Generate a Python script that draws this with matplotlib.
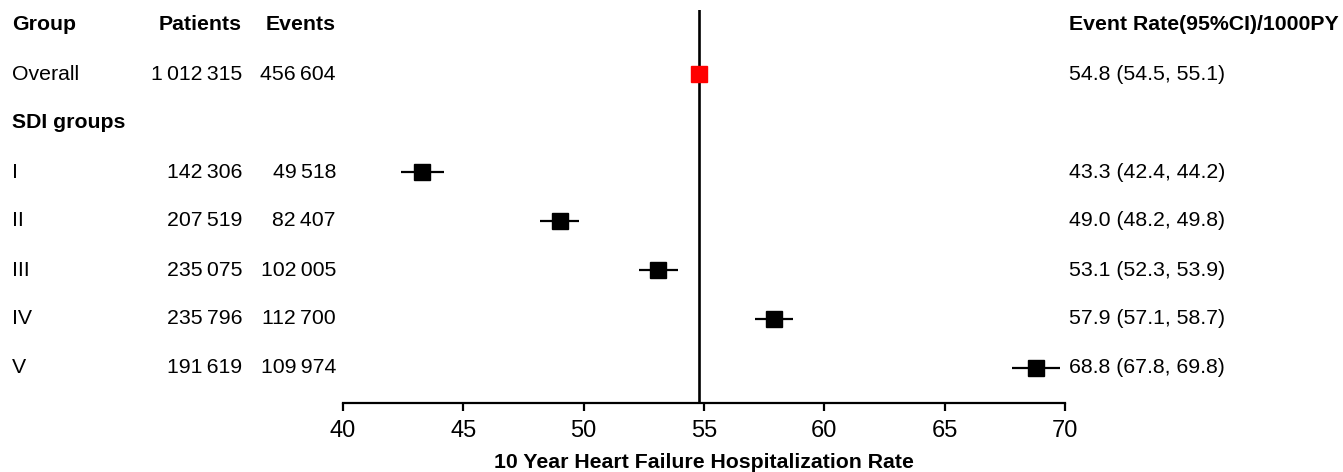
import matplotlib.pyplot as plt
from matplotlib.transforms import blended_transform_factory

plt.rcParams['font.family'] = ['Liberation Sans', 'DejaVu Sans']

# data
groups = ["Overall", "I", "II", "III", "IV", "V"]
rows = [1, 3, 4, 5, 6, 7]
patients = [1012315, 142306, 207519, 235075, 235796, 191619]
events = [456604, 49518, 82407, 102005, 112700, 109974]
rate = [54.8, 43.3, 49.0, 53.1, 57.9, 68.8]
ci_lo = [54.5, 42.4, 48.2, 52.3, 57.1, 67.8]
ci_hi = [55.1, 44.2, 49.8, 53.9, 58.7, 69.8]
colors = ["#ff0000", "black", "black", "black", "black", "black"]
ticks = [40, 45, 50, 55, 60, 65, 70]


def fmt(n):
    # thin space as thousands separator
    return f"{n:,}".replace(",", "\u2009")


W, H = 1343, 472
fig = plt.figure(figsize=(W / 100, H / 100), dpi=100)
ax = fig.add_axes([343 / W, 1 - 403 / H, (1065 - 343) / W, (403 - 10) / H])

# rows spaced ~49 px, header row at y=25 px
top = -(25 - 10) / 49.0
bottom = (403 - 25) / 49.0
ax.set_ylim(bottom, top)
ax.set_xlim(40, 70)

ax.axvline(rate[0], color="black", lw=1.9, zorder=1)

for i in range(len(groups)):
    ax.errorbar(rate[i], rows[i],
                xerr=[[rate[i] - ci_lo[i]], [ci_hi[i] - rate[i]]],
                fmt="s", color="black", ecolor="black", elinewidth=1.6,
                capsize=0, markersize=11.5, markerfacecolor=colors[i],
                markeredgecolor=colors[i], zorder=3)

for s in ["top", "left", "right"]:
    ax.spines[s].set_visible(False)
ax.spines["bottom"].set_linewidth(1.6)
ax.set_yticks([])
ax.set_xticks(ticks)
ax.tick_params(axis="x", length=6, width=1.6, labelsize=17, pad=6)

tr = blended_transform_factory(fig.transFigure, ax.transData)
fs = 15.3

def col(x, y, s, ha="left", bold=False):
    ax.text(x / W, y, s, transform=tr, ha=ha, va="center", fontsize=fs,
            fontweight="bold" if bold else "normal", clip_on=False)

# header
col(12, 0, "Group", bold=True)
col(242, 0, "Patients", ha="right", bold=True)
col(336, 0, "Events", ha="right", bold=True)
col(1069, 0, "Event Rate(95%CI)/1000PY", bold=True)
col(12, 2, "SDI groups", bold=True)

for i in range(len(groups)):
    col(12, rows[i], groups[i])
    col(242, rows[i], fmt(patients[i]), ha="right")
    col(336, rows[i], fmt(events[i]), ha="right")
    col(1069, rows[i], f"{rate[i]:.1f} ({ci_lo[i]:.1f}, {ci_hi[i]:.1f})")

fig.text(704 / W, 1 - 463 / H, "10 Year Heart Failure Hospitalization Rate",
         ha="center", va="center", fontsize=15.3, fontweight="bold")

fig.savefig("out.png", dpi=100, facecolor="white")
